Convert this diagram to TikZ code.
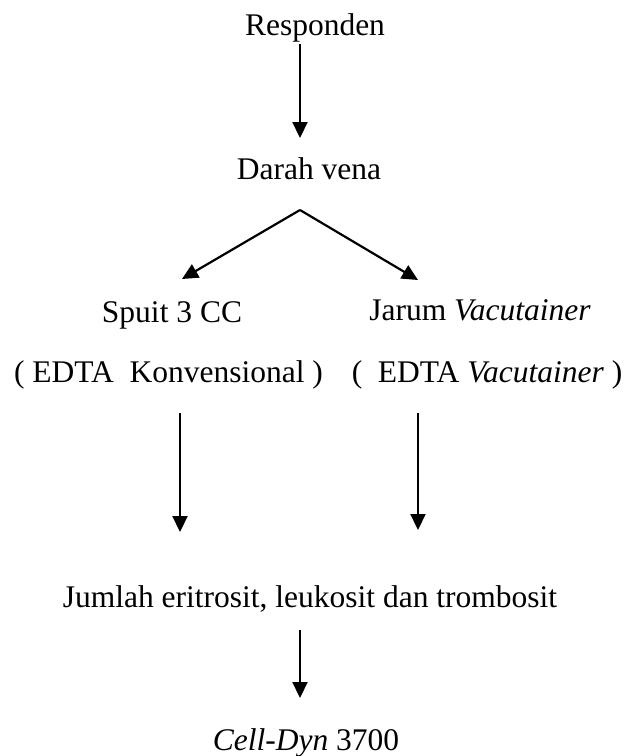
\documentclass[tikz,border=0pt]{standalone}
\usepackage{fontspec}
\setmainfont{Liberation Serif}
\usetikzlibrary{arrows.meta}
\begin{document}
\begin{tikzpicture}[x=1pt,y=1pt,
  lbl/.style={inner sep=0pt,anchor=base,font=\fontsize{31.5}{38}\selectfont},
  arr/.style={line width=2.2pt,-{Triangle[length=16pt,width=15pt]}}]
\useasboundingbox (0,0) rectangle (633,-756);
\node[lbl] (resp) at (315,-35) {Responden};
\node[lbl] (darah) at (309,-179) {Darah vena};
\node[lbl] (spuit) at (172,-322) {Spuit 3 CC};
\node[lbl] (jarum) at (480,-320) {Jarum \textit{Vacutainer}};
\node[lbl] (edtak) at (168.5,-382) {( EDTA\ \ Konvensional )};
\node[lbl] (edtav) at (487,-382) {(\ \ EDTA \textit{Vacutainer} )};
\node[lbl] (jumlah) at (310,-607) {Jumlah eritrosit, leukosit dan trombosit};
\node[lbl] (cell) at (306,-750) {\textit{Cell-Dyn} 3700};
\coordinate (apex) at ([xshift=-9pt,yshift=-31pt]darah.base);
\draw[arr] ([xshift=-15pt,yshift=-9pt]resp.base) -- ([xshift=-9pt,yshift=41pt]darah.base);
\draw[arr,line join=miter] (apex) -- ([xshift=10pt,yshift=43pt]spuit.base);
\draw[arr,line join=miter] (apex) -- ([xshift=-62pt,yshift=40pt]jarum.base);
\draw[arr] ([xshift=11.5pt,yshift=-31pt]edtak.base) -- ([xshift=-130pt,yshift=75pt]jumlah.base);
\draw[arr] ([xshift=-69pt,yshift=-31pt]edtav.base) -- ([xshift=108pt,yshift=77pt]jumlah.base);
\draw[arr] ([xshift=-10pt,yshift=-23pt]jumlah.base) -- ([xshift=-6pt,yshift=52pt]cell.base);
\end{tikzpicture}
\end{document}
